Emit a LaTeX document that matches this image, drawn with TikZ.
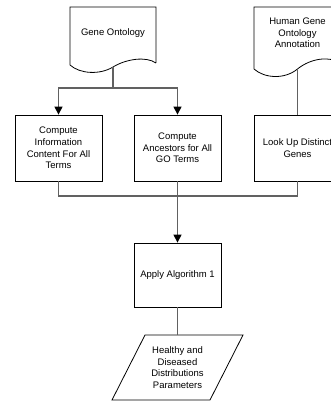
\documentclass[tikz,border=0pt]{standalone}
\usepackage{fontspec}
\setmainfont{Liberation Sans}
\usetikzlibrary{arrows.meta}
\begin{document}
\begin{tikzpicture}[x=1pt,y=-1pt,
  txt/.style={align=center,font=\fontsize{9.5}{11.6}\selectfont,inner sep=0pt},
  box/.style={txt,draw=black,line width=0.8pt,minimum width=87pt,minimum height=66pt},
  conn/.style={draw=black!62,line width=1.2pt},
  arr/.style={conn,-{Triangle[length=8pt,width=8pt,black]}},
  shp/.style={draw=black,line width=0.8pt}]
\useasboundingbox (0,0) rectangle (331,401);
% document shapes
\draw[shp] (156,63) -- (156,7) -- (70,7) -- (70,65) .. controls (80,74) and (100,75) .. (113,67) .. controls (126,59) and (146,56) .. (156,63);
\node[txt] (go) at (113,33) {Gene Ontology};
\draw[shp] (340,63) -- (340,7) -- (254,7) -- (254,69) .. controls (264,78) and (284,80) .. (297.5,69) .. controls (311,58) and (330,56) .. (340,63);
\node[txt] (hg) at (297.5,33) {Human Gene\\Ontology\\Annotation};
% process boxes
\node[box] (b1) at (58.5,148) {Compute\\Information\\Content For All\\Terms};
\node[box] (b2) at (177.5,148) {Compute\\Ancestors for All\\GO Terms};
\node[box] (b3) at (297.5,148) {Look Up Distinct\\Genes};
\node[box,minimum height=64pt] (b4) at (177.5,275) {Apply Algorithm 1};
% output parallelogram
\draw[shp] (145,335) -- (243,335) -- (210,400) -- (112,400) -- cycle;
\node[txt] (out) at (177.5,367.5) {Healthy and\\Diseased\\Distributions\\Parameters};
% connectors
\coordinate (gob) at (113,67);
\coordinate (gosplit) at (113,88);
\coordinate (hgb) at (297.5,69);
\coordinate (join) at (177.5,196);
\coordinate (outtop) at (177.5,335);
\draw[conn] (gob) -- (gosplit);
\draw[arr] (gosplit) -| (b1.north);
\draw[arr] (gosplit) -| (b2.north);
\draw[conn] (hgb) -- (b3.north);
\draw[conn] (b1.south) |- (join);
\draw[conn] (b3.south) |- (join);
\draw[arr] (b2.south) -- (b4.north);
\draw[conn] (b4.south) -- (outtop);
\end{tikzpicture}
\end{document}
